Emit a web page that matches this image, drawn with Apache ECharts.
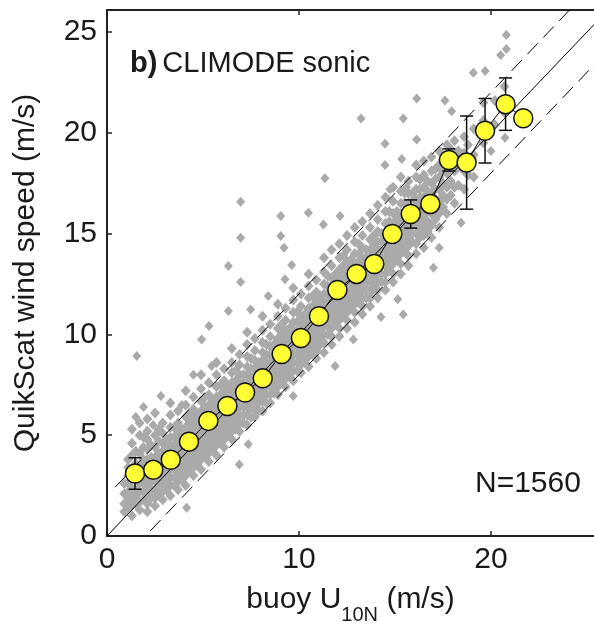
<!DOCTYPE html>
<html>
<head>
<meta charset="utf-8">
<script src="https://cdn.jsdelivr.net/npm/echarts@6/dist/echarts.min.js"></script>
<style>html,body{margin:0;padding:0;background:#fff}#c{width:594px;height:630px}</style>
</head>
<body>
<div id="c"></div>
<script>
// ---- data ----
const xTicks = [0, 10, 20];
const yTicks = [0, 5, 10, 15, 20, 25];

// bin means (buoy U10N, QuikScat) and error half-widths
const meanX = [1.46,2.41,3.32,4.27,5.28,6.27,7.19,8.11,9.10,10.10,11.04,12.00,13.00,13.92,14.86,15.82,16.84,17.81,18.73,19.69,20.76,21.68];
const meanY = [3.10,3.28,3.78,4.68,5.71,6.45,7.12,7.82,9.03,9.82,10.90,12.20,13.00,13.49,14.98,15.97,16.47,18.65,18.52,20.10,21.42,20.72];
const errHalf = [0.78,0.2,0.2,0.2,0.2,0.2,0.2,0.2,0.2,0.2,0.2,0.25,0.25,0.25,0.3,0.7,0.38,0.55,2.31,1.6,1.3,0];

// dense cloud: column x positions and y values per column
const cloudX = [0.9,1.3,1.7,2.1,2.5,2.9,3.3,3.7,4.1,4.5,4.9,5.3,5.7,6.1,6.5,6.9,7.3,7.7,8.1,8.5,8.9,9.3,9.7,10.1,10.5,10.9,11.3,11.7,12.1,12.5,12.9,13.3,13.7,14.1,14.5,14.9,15.3,15.7,16.1,16.5,16.9,17.3,17.7,18.1,18.6,19.1,19.6,20.2,20.7];
const cloudY = [
  [1.2,1.6,2.1,2.6],
  [1.0,1.5,1.9,2.3,2.8,3.3,4.0,4.6,5.3],
  [1.3,1.7,2.2,2.6,3.0,3.5,4.1,5.0,5.6],
  [1.2,1.6,2.0,2.4,2.9,3.3,3.8,4.3,4.8,5.2,5.8],
  [1.5,1.9,2.3,2.7,3.1,3.5,3.9,4.4,5.0,6.1],
  [1.8,2.2,2.6,3.0,3.4,3.8,4.2,4.6,5.1,5.6],
  [2.0,2.5,2.9,3.3,3.7,4.1,4.5,4.9,5.4,6.0,6.6],
  [2.3,2.7,3.1,3.5,3.9,4.3,4.7,5.1,5.6,6.2],
  [2.5,3.0,3.4,3.8,4.2,4.6,5.0,5.4,5.9,6.5,7.2],
  [3.0,3.4,3.8,4.2,4.6,5.0,5.4,5.8,6.3,6.9],
  [3.3,3.8,4.2,4.6,5.0,5.4,5.8,6.2,6.7,7.3,8.0],
  [3.7,4.1,4.5,4.9,5.3,5.7,6.1,6.5,7.0,7.6],
  [4.0,4.5,4.9,5.3,5.7,6.1,6.5,6.9,7.4,8.0,8.6],
  [4.4,4.8,5.2,5.6,6.0,6.4,6.8,7.2,7.7,8.3],
  [4.8,5.2,5.6,6.0,6.4,6.8,7.2,7.6,8.1,8.6,9.3],
  [5.2,5.6,6.0,6.4,6.8,7.2,7.6,8.0,8.5,9.0],
  [5.5,6.0,6.4,6.8,7.2,7.6,8.0,8.4,8.9,9.5,10.1],
  [5.9,6.3,6.7,7.1,7.5,7.9,8.3,8.7,9.2,9.8],
  [6.2,6.7,7.1,7.5,7.9,8.3,8.7,9.1,9.6,10.2,10.9],
  [6.6,7.0,7.4,7.8,8.2,8.6,9.0,9.4,9.9,10.5],
  [7.0,7.4,7.8,8.2,8.6,9.0,9.4,9.8,10.3,10.9,11.5],
  [7.4,7.8,8.2,8.6,9.0,9.4,9.8,10.2,10.7,11.3],
  [7.7,8.2,8.6,9.0,9.4,9.8,10.2,10.6,11.1,11.7,12.3],
  [8.1,8.5,8.9,9.3,9.7,10.1,10.5,10.9,11.4,12.0],
  [8.4,8.9,9.3,9.7,10.1,10.5,10.9,11.3,11.8,12.4,13.0],
  [8.8,9.2,9.6,10.0,10.4,10.8,11.2,11.6,12.1,12.7],
  [9.1,9.6,10.0,10.4,10.8,11.2,11.6,12.0,12.5,13.1,13.8],
  [9.5,9.9,10.3,10.7,11.1,11.5,11.9,12.3,12.8,13.4,14.2],
  [9.9,10.3,10.7,11.1,11.5,11.9,12.3,12.7,13.2,13.8,14.5],
  [10.3,10.7,11.1,11.5,11.9,12.3,12.7,13.1,13.6,14.2,14.9],
  [10.6,11.1,11.5,11.9,12.3,12.7,13.1,13.5,14.0,14.6,15.3],
  [11.0,11.4,11.8,12.2,12.6,13.0,13.4,13.8,14.3,14.9,15.6],
  [11.4,11.8,12.2,12.6,13.0,13.4,13.8,14.2,14.7,15.3,16.0],
  [11.8,12.2,12.6,13.0,13.4,13.8,14.2,14.6,15.1,15.7,16.4],
  [12.2,12.6,13.0,13.4,13.8,14.2,14.6,15.0,15.5,16.1,16.8],
  [12.6,13.0,13.5,13.9,14.3,14.7,15.1,15.5,16.0,16.6,17.3],
  [13.0,13.5,14.0,14.4,14.8,15.2,15.6,16.0,16.5,17.1,17.8],
  [13.4,13.9,14.4,14.8,15.2,15.6,16.0,16.5,17.0,17.6],
  [14.0,14.5,15.0,15.4,15.8,16.2,16.7,17.2,17.8,18.4],
  [14.3,14.9,15.4,15.9,16.3,16.8,17.3,17.9,18.6],
  [14.8,15.4,16.0,16.5,17.0,17.5,18.1,18.8],
  [15.3,16.0,16.6,17.2,17.8,18.4,19.1],
  [16.0,16.7,17.3,18.0,18.6,19.4],
  [16.5,17.3,18.1,18.9,19.6],
  [17.2,18.1,19.0,19.8],
  [17.8,18.9,20.2],
  [19.5,20.6,21.5],
  [20.4,21.6],
  [21.0,22.3]
];
// dense core between the columns above
const coreX = [1.1,1.5,1.9,2.3,2.7,3.1,3.5,3.9,4.3,4.7,5.1,5.5,5.9,6.3,6.7,7.1,7.5,7.9,8.3,8.7,9.1,9.5,9.9,10.3,10.7,11.1,11.5,11.9,12.3,12.7,13.1,13.5,13.9,14.3,14.7,15.1,15.5,15.9,16.3,16.7,17.1,17.5,17.9,18.3,18.8];
const coreY = [
  [1.4,1.8,2.2,2.6,3.0,3.4,3.8],
  [1.6,2.0,2.4,2.8,3.2,3.6,4.2],
  [1.8,2.2,2.6,3.0,3.4,3.8,4.4,4.9],
  [1.9,2.3,2.7,3.1,3.5,3.9,4.5],
  [2.0,2.5,2.9,3.3,3.7,4.1,4.7,5.3],
  [2.3,2.7,3.1,3.5,3.9,4.3,4.8],
  [2.5,2.9,3.3,3.7,4.1,4.5,4.9,5.4],
  [2.8,3.2,3.6,4.0,4.4,4.8,5.3],
  [3.2,3.6,4.0,4.4,4.8,5.2,5.6,6.1],
  [3.6,4.0,4.4,4.8,5.2,5.6,6.0],
  [4.0,4.4,4.8,5.2,5.6,6.0,6.4,6.9],
  [4.3,4.7,5.1,5.5,5.9,6.3,6.7],
  [4.6,5.0,5.4,5.8,6.2,6.6,7.0,7.5],
  [5.0,5.4,5.8,6.2,6.6,7.0,7.4],
  [5.3,5.7,6.1,6.5,6.9,7.3,7.7,8.2],
  [5.6,6.0,6.4,6.8,7.2,7.6,8.0],
  [5.9,6.3,6.7,7.1,7.5,7.9,8.3,8.8],
  [6.2,6.6,7.0,7.4,7.8,8.2,8.6],
  [6.6,7.0,7.4,7.8,8.2,8.6,9.0,9.5],
  [7.1,7.5,7.9,8.3,8.7,9.1,9.5],
  [7.6,8.0,8.4,8.8,9.2,9.6,10.0,10.5],
  [7.9,8.3,8.7,9.1,9.5,9.9,10.3],
  [8.2,8.6,9.0,9.4,9.8,10.2,10.6,11.1],
  [8.6,9.0,9.4,9.8,10.2,10.6,11.0],
  [9.0,9.4,9.8,10.2,10.6,11.0,11.4,11.9],
  [9.5,9.9,10.3,10.7,11.1,11.5,11.9],
  [10.0,10.4,10.8,11.2,11.6,12.0,12.4,12.9],
  [10.6,11.0,11.4,11.8,12.2,12.6,13.0],
  [11.0,11.4,11.8,12.2,12.6,13.0,13.4,13.9],
  [11.3,11.7,12.1,12.5,12.9,13.3,13.7],
  [11.6,12.0,12.4,12.8,13.2,13.6,14.0,14.5],
  [11.8,12.2,12.6,13.0,13.4,13.8,14.2],
  [12.0,12.4,12.8,13.2,13.6,14.0,14.4,14.9],
  [12.6,13.0,13.4,13.8,14.2,14.6,15.0],
  [13.2,13.6,14.0,14.4,14.8,15.2,15.6,16.1],
  [13.7,14.1,14.5,14.9,15.3,15.7,16.1],
  [14.1,14.5,14.9,15.3,15.7,16.1,16.5,17.0],
  [14.6,15.0,15.4,15.8,16.2,16.6,17.0],
  [14.8,15.2,15.6,16.0,16.4,16.8,17.2,17.7],
  [15.1,15.6,16.1,16.6,17.1,17.6],
  [15.7,16.2,16.7,17.2,17.7,18.2],
  [16.3,16.9,17.5,18.1,18.7],
  [16.9,17.6,18.4,19.2],
  [17.4,18.3,19.1],
  [17.9,19.4]
];
// isolated points
const outlierX = [1.55,2.81,1.9,1.5,2.4,4.15,6.89,7.36,4.93,5.31,4.5,5.45,3.9,6.32,6.32,7.48,6.96,6.96,6.96,8.4,9.05,9.05,9.22,9.62,9.27,10.49,11.35,11.27,12.14,13.23,14.48,14.48,15.43,16.13,16.13,17.6,17.95,15.35,15.6,14.74,19.08,19.7,20.8,20.8,20.5,20.73,20.0,9.7,11.88,12.83,14.27,15.43,15.14,17.0,17.3,18.44];
const outlierY = [8.93,6.94,6.4,5.9,5.5,1.40,3.55,4.55,9.75,10.41,8.0,8.43,6.5,13.39,11.16,11.24,12.60,14.79,16.58,11.9,15.87,14.88,14.30,13.44,12.73,16.03,17.74,15.45,15.87,20.71,19.45,18.40,20.71,21.70,19.67,21.6,21.07,18.7,17.3,17.2,22.98,23.06,24.85,24.16,23.86,19.75,19.1,6.94,8.43,9.75,10.86,10.99,11.74,13.3,14.3,15.54];

const upperDash = [[0.42, 2.42], [24.5, 26.5]];
const lowerDash = [[2.25, 0.25], [27, 25]];
const oneToOne = [[0, 0], [27, 27]];

// ---- build ----
const XMAX = 487 / 19.2, YMAX = 527 / 20.2;
const cloud = [];
cloudX.forEach((x, i) => cloudY[i].forEach(y => cloud.push([x, y])));
coreX.forEach((x, i) => coreY[i].forEach(y => cloud.push([x, y])));
const outliers = outlierX.map((x, i) => [x, outlierY[i]]);
const means = meanX.map((x, i) => [x, meanY[i]]);
const errs = meanX.map((x, i) => [x, meanY[i] - errHalf[i], meanY[i] + errHalf[i]]).filter((d, i) => errHalf[i] > 0);

const FONT = 'Liberation Sans, Arial, sans-serif';
const TXT = '#1a1a1a';
const GRAY = '#aaaaaa';
const chart = echarts.init(document.getElementById('c'), null, {renderer: 'canvas'});
chart.setOption({
  animation: false,
  backgroundColor: '#fff',
  title: [
    {text: '{b|b)} {n|CLIMODE sonic}', left: 130, top: 49, padding: 0,
     textStyle: {fontWeight: 'normal', rich: {
       b: {fontFamily: FONT, fontSize: 29, fontWeight: 'bold', color: TXT},
       n: {fontFamily: FONT, fontSize: 29, fontWeight: 'normal', color: TXT}}}},
    {text: 'N=1560', left: 475, top: 469, padding: 0,
     textStyle: {fontFamily: FONT, fontSize: 30, fontWeight: 'normal', color: TXT}}
  ],
  grid: {left: 107, top: 10, width: 487, height: 527, containLabel: false},
  xAxis: [{
    type: 'value', min: 0, max: XMAX, position: 'bottom',
    name: '{a|buoy U}{s|10N}{a| (m/s)}', nameLocation: 'middle', nameGap: 45,
    nameTextStyle: {verticalAlign: 'top', rich: {
      a: {fontFamily: FONT, fontSize: 30, color: TXT, verticalAlign: 'bottom', lineHeight: 34},
      s: {fontFamily: FONT, fontSize: 20, color: TXT, verticalAlign: 'bottom', lineHeight: 34, padding: [0,0,-10,0]}}},
    axisLine: {show: true, lineStyle: {color: '#222', width: 2}},
    axisTick: {show: true, inside: true, length: 5, customValues: xTicks, lineStyle: {color: '#222', width: 1.5}},
    axisLabel: {customValues: xTicks, margin: 9, fontFamily: FONT, fontSize: 30, color: TXT},
    splitLine: {show: false}
  }, {
    type: 'value', min: 0, max: XMAX, position: 'top',
    axisLine: {show: true, lineStyle: {color: '#222', width: 2}},
    axisTick: {show: true, inside: true, length: 5, customValues: xTicks, lineStyle: {color: '#222', width: 1.5}},
    axisLabel: {show: false}, splitLine: {show: false}
  }],
  yAxis: {
    type: 'value', min: 0, max: YMAX,
    name: 'QuikScat wind speed (m/s)', nameLocation: 'middle', nameGap: 66, nameRotate: 90,
    nameTextStyle: {fontFamily: FONT, fontSize: 30, color: TXT},
    axisLine: {show: true, lineStyle: {color: '#222', width: 2}},
    axisTick: {show: true, inside: true, length: 5, customValues: yTicks, lineStyle: {color: '#222', width: 1.5}},
    axisLabel: {customValues: yTicks, margin: 10, fontFamily: FONT, fontSize: 30, color: TXT},
    splitLine: {show: false}
  },
  series: [
    {type: 'scatter', data: cloud, symbol: 'diamond', symbolSize: [10, 11],
     itemStyle: {color: GRAY, opacity: 1}, z: 1, silent: true, large: false},
    {type: 'scatter', data: outliers, symbol: 'diamond', symbolSize: [9, 10],
     itemStyle: {color: GRAY, opacity: 1}, z: 1, silent: true},
    {type: 'line', data: oneToOne, showSymbol: false, symbol: 'none',
     lineStyle: {color: '#000', width: 1}, z: 2, silent: true},
    {type: 'line', data: upperDash, showSymbol: false, symbol: 'none',
     lineStyle: {color: '#000', width: 1, type: [15, 8]}, z: 2, silent: true},
    {type: 'line', data: lowerDash, showSymbol: false, symbol: 'none',
     lineStyle: {color: '#000', width: 1, type: [15, 8]}, z: 2, silent: true},
    {type: 'custom', data: errs, z: 3, silent: true,
     renderItem: function (params, api) {
       const x = api.value(0);
       const lo = api.coord([x, api.value(1)]);
       const hi = api.coord([x, api.value(2)]);
       const w = 6.5;
       const st = {stroke: '#111', lineWidth: 1.5};
       return {type: 'group', children: [
         {type: 'line', shape: {x1: lo[0], y1: lo[1], x2: hi[0], y2: hi[1]}, style: st},
         {type: 'line', shape: {x1: lo[0]-w, y1: lo[1], x2: lo[0]+w, y2: lo[1]}, style: st},
         {type: 'line', shape: {x1: hi[0]-w, y1: hi[1], x2: hi[0]+w, y2: hi[1]}, style: st}
       ]};
     }},
    {type: 'line', data: means, symbol: 'circle', symbolSize: 19, showSymbol: true,
     lineStyle: {color: '#000', width: 1},
     itemStyle: {color: '#ffff33', borderColor: '#111', borderWidth: 1.5}, z: 4, silent: true}
  ]
});
</script>
</body>
</html>
